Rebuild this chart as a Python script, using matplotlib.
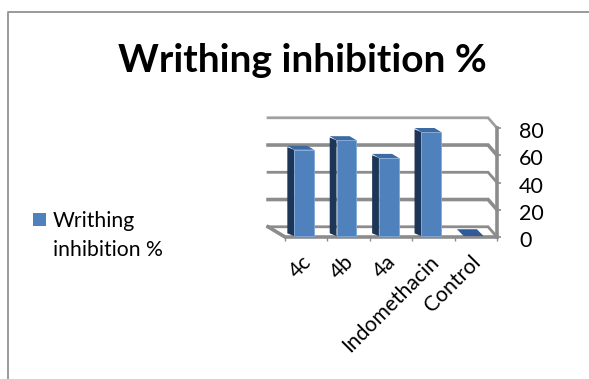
import matplotlib
matplotlib.use('Agg')
import matplotlib.pyplot as plt
from matplotlib.lines import Line2D
from matplotlib.patches import Polygon, Rectangle
from matplotlib.transforms import ScaledTranslation

plt.rcParams['font.family'] = ['Lato', 'DejaVu Sans']

categorias = ['4c', '4b', '4a', 'Indomethacin', 'Control']
valores = [64, 71, 58, 77, 2]
titulo = 'Writhing inhibition %'
yticks = [0, 20, 40, 60, 80]

W, H = 589, 379
fig = plt.figure(figsize=(W / 100, H / 100), dpi=100, facecolor='white')

# eixo no plano da frente do grafico "3D"
ax = fig.add_axes([285 / W, 1 - 237 / H, 212 / W, 109 / H])
ax.set_xlim(0, 5)
ax.set_ylim(0, 80)
for s in ax.spines.values():
    s.set_visible(False)
ax.patch.set_visible(False)

cinza = '#8c8c8c'
# deslocamento do plano de tras, em unidades dos dados
dx_esq, dx_dir, dy_fundo = -0.40, -0.21, 7.5

def fundo(x):
    return x + dx_esq + (dx_dir - dx_esq) * x / 5

# grade de fundo e parede direita
for v in yticks:
    lw = 2.6 if v in (20, 60) else 2.0
    cor = '#a0a0a0' if v == 80 else cinza
    ax.plot([fundo(0), fundo(5), 5], [v + dy_fundo, v + dy_fundo, v], color=cor, lw=lw,
            clip_on=False, solid_joinstyle='miter', zorder=1)
ax.plot([5, 5], [0, 80], color=cinza, lw=2.6, clip_on=False, zorder=1)
ax.plot([fundo(0), 0, 5], [dy_fundo, 0, 0], color=cinza, lw=2.6, clip_on=False,
        solid_joinstyle='miter', zorder=1)

# barras com aparencia 3D
meia = 0.235
lado = 0.16
for i, v in enumerate(valores):
    c = i + 0.45
    e, d = c - meia, c + meia
    base = 0.7
    if v < 5:
        # barra quase achatada
        ax.add_patch(Polygon([(e, base), (d, base), (d - lado, base + 5), (e - lado, base + 5)],
                             fc='#2f5b9a', ec='none', clip_on=False, zorder=3))
        continue
    ax.add_patch(Polygon([(e, base), (e, v), (e - lado, v + 2), (e - lado, base + 2)],
                         fc='#1d3657', ec='none', clip_on=False, zorder=3))
    ax.add_patch(Polygon([(e, v), (d, v), (d - lado, v + 3), (e - lado, v + 3)],
                         fc='#3c6aa3', ec='none', clip_on=False, zorder=3))
    ax.add_patch(Rectangle((e, base), d - e, v - base, fc='#4f81bd', ec='#7fa8d8', lw=0.6,
                           clip_on=False, zorder=4))

ax.yaxis.tick_right()
ax.set_yticks(yticks)
ax.tick_params(axis='y', length=3, width=1.2, color=cinza, labelsize=15.5, pad=13, labelcolor='black')
desce = ScaledTranslation(0, -2 / 100, fig.dpi_scale_trans)
for t in ax.get_yticklabels():
    t.set_transform(t.get_transform() + desce)
ax.set_xticks(range(6))
ax.set_xticklabels([])
ax.set_xticks([i + 0.5 for i in range(5)], minor=True)
ax.tick_params(axis='x', which='major', length=3, width=1, color=cinza)
ax.tick_params(axis='x', which='minor', length=0, pad=4)
ax.set_xticklabels(categorias, minor=True, rotation=45, ha='right', rotation_mode='anchor',
                   fontsize=15.2)
# tem que vir depois do tick_params, que refaz a transformacao
esquerda = ScaledTranslation(-5 / 100, -9 / 100, fig.dpi_scale_trans)
for t in ax.get_xticklabels(minor=True):
    t.set_transform(t.get_transform() + esquerda)

# moldura parcial da imagem
fig.add_artist(Line2D([7.5 / W, 7.5 / W, 1], [0, 1 - 12 / H, 1 - 12 / H], color='#9a9a9a', lw=1.4))

fig.text(302 / W, 1 - 60 / H, titulo, fontsize=28, fontweight='bold', ha='center', va='center')

# legenda
fig.add_artist(Rectangle((33 / W, 1 - 226 / H), 13 / W, 13 / H, transform=fig.transFigure,
                         fc='#4f81bd', ec='none'))
fig.text(53 / W, 1 - 221 / H, 'Writhing', fontsize=15.2, va='center')
fig.text(53 / W, 1 - 250 / H, 'inhibition %', fontsize=15.2, va='center')

fig.savefig('out.png', dpi=100)
